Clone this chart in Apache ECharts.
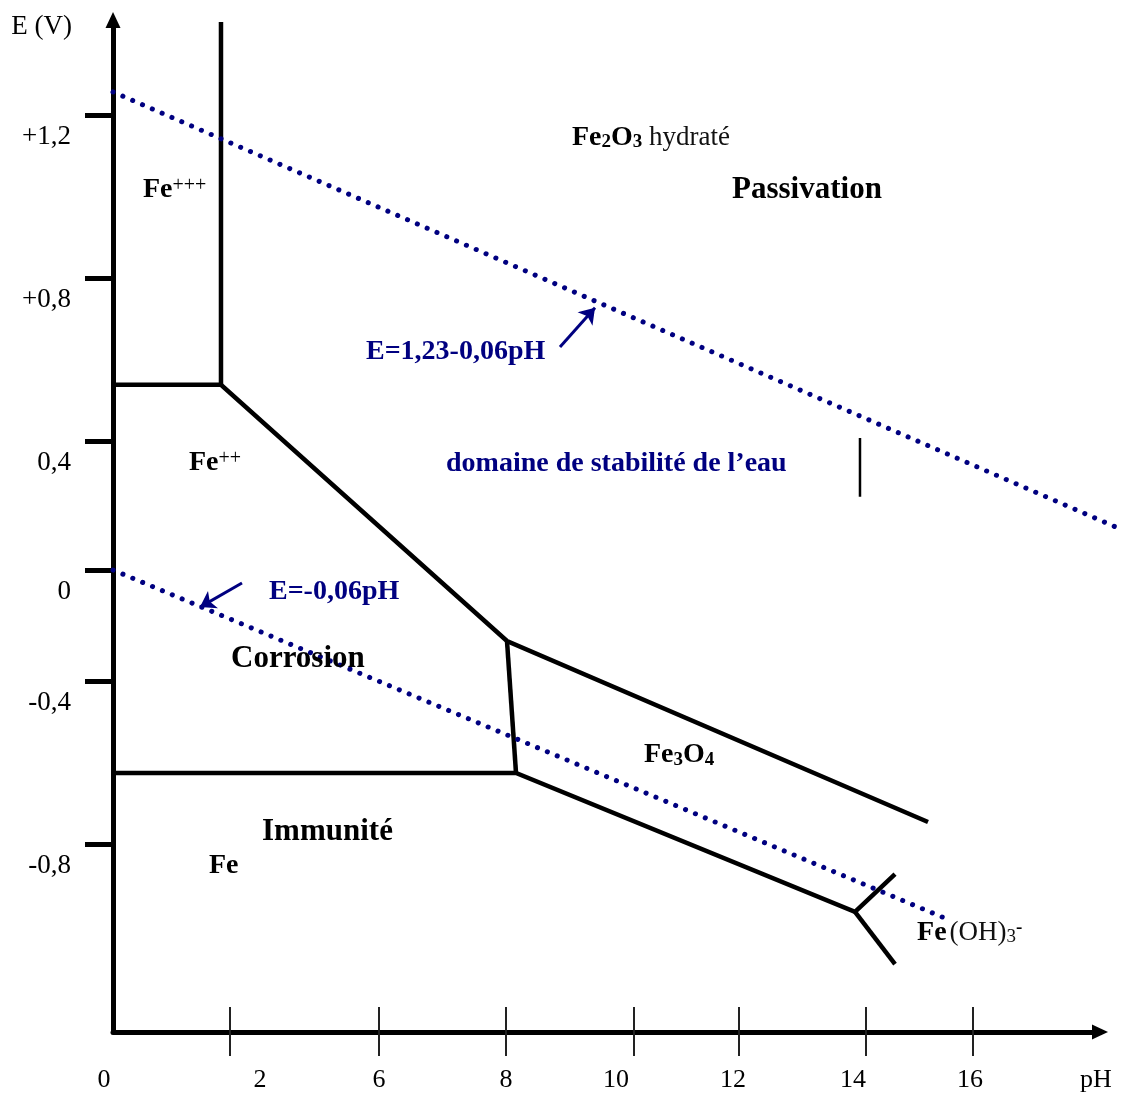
<!DOCTYPE html>
<html>
<head>
<meta charset="utf-8">
<title>Diagramme E-pH du fer</title>
<script src="https://cdn.jsdelivr.net/npm/echarts@6.0.0/dist/echarts.min.js"></script>
<style>
  html, body { margin: 0; padding: 0; background: #fff; }
  #chart { width: 1126px; height: 1095px; }
</style>
</head>
<body>
<div id="chart"></div>
<script>
// axis calibration (the drawn ticks are not evenly spaced)
const xTickValues = [2.184, 4.966, 7.337, 9.727, 11.687, 14.058, 16.056];
const xLabelValues = [0, 2.744, 4.966, 7.337, 9.391, 11.575, 13.816, 16.0];
const xLabelTexts = ['0', '2', '6', '8', '10', '12', '14', '16'];
const yTickValues = [1.300, 0.834, 0.369, 0, -0.317, -0.783];
const yLabelValues = [1.237, 0.771, 0.306, -0.063, -0.380, -0.846];
const yLabelTexts = ['+1,2', '+0,8', '0,4', '0', '-0,4', '-0,8'];

// domain boundaries, points as [pH, E]
const fe3Fe2Line = [[2.016, 1.566], [2.016, 0.529]];
const upperBoundary = [[0, 0.529], [2.016, 0.529], [7.356, -0.203], [15.216, -0.72]];
const fe2Fe3o4Line = [[7.356, -0.203], [7.524, -0.58]];
const lowerBoundary = [[0, -0.58], [7.524, -0.58], [13.853, -0.977], [14.6, -0.869]];
const feOH3Branch = [[13.853, -0.977], [14.6, -1.126]];
const smallMark = [[13.946, 0.377], [13.946, 0.209]];

// water stability lines
const waterUpper = [[0, 1.366], [18.763, 0.12]];
const waterLower = [[0, 0], [15.52, -0.994]];
const arrowLines = [
  [[8.345, 0.637], [8.999, 0.749]],
  [[2.408, -0.037], [1.624, -0.106]]
];

// annotations
const noteTexts = [
  '{bold|Fe}{sup|+++}',
  '{bold|Fe}{sup|++}',
  '{bold|Fe}{bsub|2}{bold|O}{bsub|3}{reg| hydraté}',
  '{big|Passivation}',
  '{blue|E=1,23-0,06pH}',
  '{blue|domaine de stabilité de l’eau}',
  '{blue|E=-0,06pH}',
  '{big|Corrosion}',
  '{bold|Fe}{bsub|3}{bold|O}{bsub|4}',
  '{big|Immunité}',
  '{bold|Fe}',
  '{bold|Fe} {reg|(OH)}{rsub|3}{rsup|-}'
];
const notePositions = [
  [0.56, 1.086], [1.419, 0.306], [8.569, 1.235], [11.557, 1.086],
  [4.723, 0.623], [6.217, 0.303], [2.912, -0.063], [2.203, -0.254],
  [9.914, -0.529], [2.782, -0.749], [1.792, -0.846], [15.011, -1.037]
];

const FONT = "'Liberation Serif', 'DejaVu Serif', serif";
const NAVY = '#000080';

function nearestText(values, texts, v) {
  let best = 0;
  values.forEach((val, i) => {
    if (Math.abs(val - v) < Math.abs(values[best] - v)) best = i;
  });
  return texts[best];
}

function boundary(data) {
  return {
    type: 'line',
    data,
    symbol: 'none',
    clip: false,
    silent: true,
    z: 3,
    lineStyle: { color: '#000', width: 4.5, join: 'miter' }
  };
}

function waterLine(coords) {
  return {
    type: 'lines',
    coordinateSystem: 'cartesian2d',
    clip: false,
    silent: true,
    z: 4,
    symbol: 'none',
    lineStyle: { color: NAVY, width: 5, type: [0.1, 10.6], cap: 'round', opacity: 1, curveness: 0 },
    data: [{ coords }]
  };
}

const chart = echarts.init(document.getElementById('chart'));

const option = {
  animation: false,
  backgroundColor: '#fff',
  grid: { left: 113, right: 26, top: 20, bottom: 63, containLabel: false, outerBoundsMode: 'none' },
  xAxis: [
    {
      type: 'value',
      min: 0,
      max: 18.427,
      position: 'bottom',
      axisLine: {
        show: true, onZero: false,
        symbol: ['none', 'triangle'], symbolSize: [15, 16],
        lineStyle: { color: '#000', width: 5 }
      },
      axisTick: {
        show: true, inside: false, length: 24, customValues: xTickValues,
        lineStyle: { color: '#222', width: 2 }
      },
      axisLabel: {
        customValues: xLabelValues,
        margin: 35,
        fontFamily: FONT, fontSize: 26, color: '#000',
        formatter: v => {
          const t = nearestText(xLabelValues, xLabelTexts, v);
          return t === '0' ? '{left|0}' : t;
        },
        rich: { left: { fontFamily: FONT, fontSize: 26, color: '#000', padding: [0, 18, 0, 0] } }
      },
      splitLine: { show: false }
    },
    {
      // upper half of the crossing ticks
      type: 'value',
      min: 0,
      max: 18.427,
      position: 'bottom',
      axisLine: { show: false, onZero: false },
      axisTick: {
        show: true, inside: true, length: 25, customValues: xTickValues,
        lineStyle: { color: '#222', width: 2 }
      },
      axisLabel: { show: false },
      splitLine: { show: false }
    },
    {
      // carries the "pH" name below the arrow
      type: 'value',
      min: 0,
      max: 18.427,
      position: 'bottom',
      offset: 48,
      name: 'pH',
      nameLocation: 'end',
      nameGap: -4,
      nameTextStyle: {
        fontFamily: FONT, fontSize: 26, color: '#000',
        align: 'center', verticalAlign: 'middle'
      },
      axisLine: { show: false, onZero: false },
      axisTick: { show: false },
      axisLabel: { show: false },
      splitLine: { show: false }
    }
  ],
  yAxis: {
    type: 'value',
    min: -1.32,
    max: 1.5714,
    name: 'E (V)',
    nameLocation: 'end',
    nameGap: -7,
    nameTextStyle: {
      fontFamily: FONT, fontSize: 27, color: '#000',
      align: 'right', verticalAlign: 'middle', padding: [0, 41, 0, 0]
    },
    axisLine: {
      show: true, onZero: false,
      symbol: ['none', 'triangle'], symbolSize: [15, 16],
      lineStyle: { color: '#000', width: 5 }
    },
    axisTick: {
      show: true, inside: false, length: 28, customValues: yTickValues,
      lineStyle: { color: '#000', width: 5 }
    },
    axisLabel: {
      customValues: yLabelValues,
      margin: 42,
      fontFamily: FONT, fontSize: 27, color: '#000',
      formatter: v => nearestText(yLabelValues, yLabelTexts, v)
    },
    splitLine: { show: false }
  },
  series: [
    boundary(fe3Fe2Line),
    boundary(upperBoundary),
    boundary(fe2Fe3o4Line),
    boundary(lowerBoundary),
    boundary(feOH3Branch),
    {
      type: 'line',
      data: smallMark,
      symbol: 'none',
      silent: true,
      lineStyle: { color: '#000', width: 2.5 }
    },
    waterLine(waterUpper),
    waterLine(waterLower),
    {
      type: 'lines',
      coordinateSystem: 'cartesian2d',
      silent: true,
      z: 5,
      symbol: ['none', 'arrow'],
      symbolSize: 15,
      lineStyle: { color: NAVY, width: 3, opacity: 1, curveness: 0 },
      data: arrowLines.map(c => ({ coords: c }))
    },
    {
      type: 'scatter',
      silent: true,
      clip: false,
      symbolSize: 0,
      z: 6,
      itemStyle: { opacity: 1 },
      data: notePositions.map((p, i) => ({
        value: p,
        label: { formatter: noteTexts[i] }
      })),
      label: {
        show: true,
        position: 'right',
        distance: 0,
        opacity: 1,
        fontFamily: FONT,
        rich: {
          bold: { fontFamily: FONT, fontSize: 28, fontWeight: 'bold', color: '#000', lineHeight: 28 },
          big: { fontFamily: FONT, fontSize: 31, fontWeight: 'bold', color: '#000', lineHeight: 31 },
          blue: { fontFamily: FONT, fontSize: 28, fontWeight: 'bold', color: NAVY, lineHeight: 28 },
          reg: { fontFamily: FONT, fontSize: 27, color: '#111', lineHeight: 28 },
          sup: { fontFamily: FONT, fontSize: 20, color: '#000', lineHeight: 10, verticalAlign: 'top' },
          bsub: { fontFamily: FONT, fontSize: 19, fontWeight: 'bold', color: '#000', lineHeight: 4, verticalAlign: 'bottom' },
          rsub: { fontFamily: FONT, fontSize: 19, color: '#111', lineHeight: 4, verticalAlign: 'bottom' },
          rsup: { fontFamily: FONT, fontSize: 19, fontWeight: 'bold', color: '#000', lineHeight: 12, verticalAlign: 'top' }
        }
      }
    }
  ]
};

chart.setOption(option);
window.addEventListener('resize', () => chart.resize());
</script>
</body>
</html>
